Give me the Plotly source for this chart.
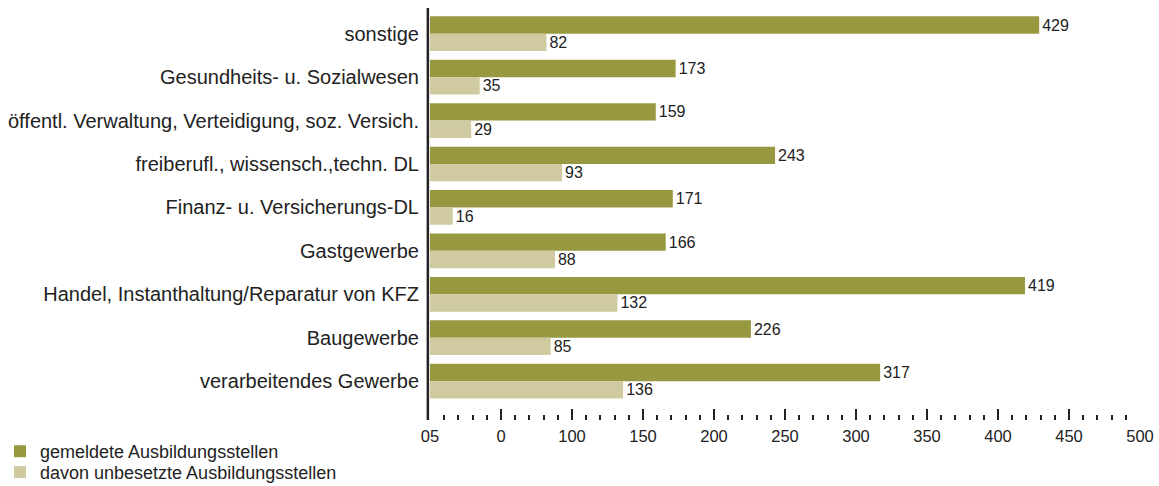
import plotly.graph_objects as go

categories = [
    "sonstige",
    "Gesundheits- u. Sozialwesen",
    "öffentl. Verwaltung, Verteidigung, soz. Versich.",
    "freiberufl., wissensch.,techn. DL",
    "Finanz- u. Versicherungs-DL",
    "Gastgewerbe",
    "Handel, Instanthaltung/Reparatur von KFZ",
    "Baugewerbe",
    "verarbeitendes Gewerbe",
]
gemeldet = [429, 173, 159, 243, 171, 166, 419, 226, 317]
unbesetzt = [82, 35, 29, 93, 16, 88, 132, 85, 136]

tick_vals = [0, 50, 100, 150, 200, 250, 300, 350, 400, 450, 500]
tick_text = ["05", "0", "100", "150", "200", "250", "300", "350", "400", "450", "500"]

FONT = "Liberation Sans, Arial, sans-serif"
DARK = "#222222"

fig = go.Figure()
fig.add_trace(go.Bar(
    y=categories, x=gemeldet, orientation="h",
    name="gemeldete Ausbildungsstellen",
    marker=dict(color="#989840", line=dict(width=0)),
    text=gemeldet, textposition="outside", cliponaxis=False,
    textfont=dict(size=16, color=DARK, family=FONT),
    legend="legend",
))
fig.add_trace(go.Bar(
    y=categories, x=unbesetzt, orientation="h",
    name="davon unbesetzte Ausbildungsstellen",
    marker=dict(color="#cfca9f", line=dict(width=0)),
    text=unbesetzt, textposition="outside", cliponaxis=False,
    textfont=dict(size=16, color=DARK, family=FONT),
    legend="legend2",
))

legend_common = dict(
    xref="container", yref="container", xanchor="left", yanchor="top",
    orientation="v", font=dict(size=18, color=DARK, family=FONT),
    itemwidth=30, bgcolor="rgba(0,0,0,0)",
)

fig.update_layout(
    width=1159, height=486,
    margin=dict(l=430, r=19, t=12, b=66, autoexpand=False),
    paper_bgcolor="white", plot_bgcolor="white",
    barmode="group", bargap=0.2, bargroupgap=0,
    font=dict(family=FONT, size=16, color=DARK),
    showlegend=True,
    legend=dict(x=0, y=0.109, **legend_common),
    legend2=dict(x=0, y=0.066, **legend_common),
    xaxis=dict(
        range=[0, 500], anchor="free", position=0, automargin=False,
        tickvals=tick_vals, ticktext=tick_text,
        ticks="inside", ticklen=11, tickwidth=2, tickcolor=DARK,
        minor=dict(dtick=10, ticks="inside", ticklen=5, tickwidth=2, tickcolor=DARK),
        showgrid=False, zeroline=False, showline=False,
        ticklabelstandoff=4,
        tickfont=dict(size=16.5, color=DARK, family=FONT),
        fixedrange=True,
    ),
    yaxis=dict(
        domain=[0.042, 1], autorange="reversed", automargin=False,
        showgrid=False, zeroline=False, showline=False,
        ticks="", ticklabelstandoff=10,
        tickfont=dict(size=20, color=DARK, family=FONT),
        fixedrange=True,
    ),
)

fig.add_shape(
    type="line", xref="paper", yref="paper",
    x0=-0.003, x1=-0.003, y0=0, y1=1.01,
    line=dict(color=DARK, width=2.5),
)

fig.write_html(
    "out.html",
    config={"displayModeBar": False},
    post_script="document.body.style.margin='0';document.body.style.overflow='hidden';",
)
